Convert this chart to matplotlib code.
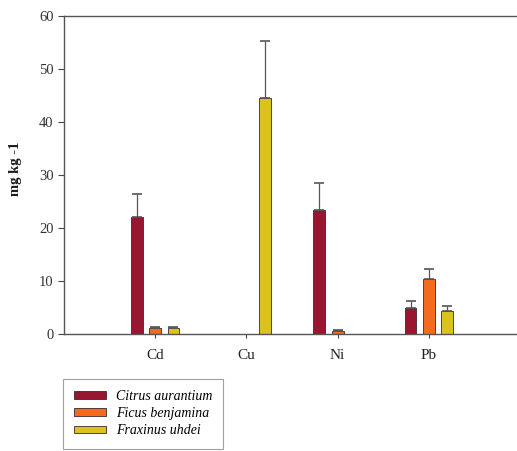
import numpy as np
import matplotlib.pyplot as plt
from matplotlib.patches import Patch

# Metal content per species (mg kg-1), mean and standard error
metals = ['Cd', 'Cu', 'Ni', 'Pb']
species = ['Citrus aurantium', 'Ficus benjamina', 'Fraxinus uhdei']
citrus = [22.1, 0.0, 23.4, 5.0]
ficus = [1.2, 0.0, 0.5, 10.3]
fraxinus = [1.1, 44.5, 0.0, 4.4]
citrus_err = [4.4, 0.0, 5.1, 1.3]
ficus_err = [0.2, 0.0, 0.2, 1.9]
fraxinus_err = [0.2, 10.8, 0.0, 0.8]

colors = ['#9a1630', '#f46a1f', '#dcc21e']
values = [citrus, ficus, fraxinus]
errors = [citrus_err, ficus_err, fraxinus_err]

plt.rcParams['font.family'] = ['Liberation Serif', 'DejaVu Serif']

fig = plt.figure(figsize=(5.17, 4.51), dpi=100)
ax = fig.add_axes([64 / 517, 1 - 334 / 451, 456 / 517, 318 / 451])

x = np.arange(len(metals))
width = 0.13
offsets = [-0.2, 0.0, 0.2]
for vals, errs, col, off in zip(values, errors, colors, offsets):
    vals = np.array(vals)
    errs = np.array(errs)
    keep = vals > 0  # empty measurements are left blank
    xs = x[keep] + off
    ax.bar(xs, vals[keep], width, color=col, edgecolor='#3a2a2a', linewidth=0.6, zorder=2)
    ax.errorbar(xs, vals[keep], yerr=[np.zeros(keep.sum()), errs[keep]], fmt='none',
                ecolor='#555555', elinewidth=0.9, capsize=3.5, capthick=1.2, zorder=3)

ax.set_xlim(-1, 4)
ax.set_ylim(0, 60)
ax.set_yticks(range(0, 61, 10))
ax.set_xticks(x)
ax.set_xticklabels(metals, fontsize=11)
ax.tick_params(axis='y', labelsize=10.5, length=4, width=0.8, colors='#444444', labelcolor='#333333')
ax.tick_params(axis='x', length=3, width=0.8, colors='#444444', labelcolor='#222222', pad=8)
ax.spines['right'].set_visible(False)
for s in ['left', 'top', 'bottom']:
    ax.spines[s].set_color('#555555')
    ax.spines[s].set_linewidth(1.0)

ax.set_ylabel('mg kg -1', fontsize=10.5, fontweight='semibold', color='#1a1a1a')
ax.yaxis.set_label_coords(-0.092, 0.52)

handles = [Patch(facecolor=c, edgecolor='#3a2a2a', linewidth=0.6) for c in colors]
leg = fig.legend(handles, species, loc='upper left',
                 bbox_to_anchor=(63 / 517, 1 - 379 / 451), borderaxespad=0,
                 frameon=True, fancybox=False, edgecolor='#888888',
                 prop={'style': 'italic', 'size': 10}, handlelength=2.3,
                 handleheight=0.5, labelspacing=0.3, borderpad=0.8, handletextpad=0.7)
leg.get_frame().set_linewidth(0.8)

fig.savefig('out.png', dpi=100)
